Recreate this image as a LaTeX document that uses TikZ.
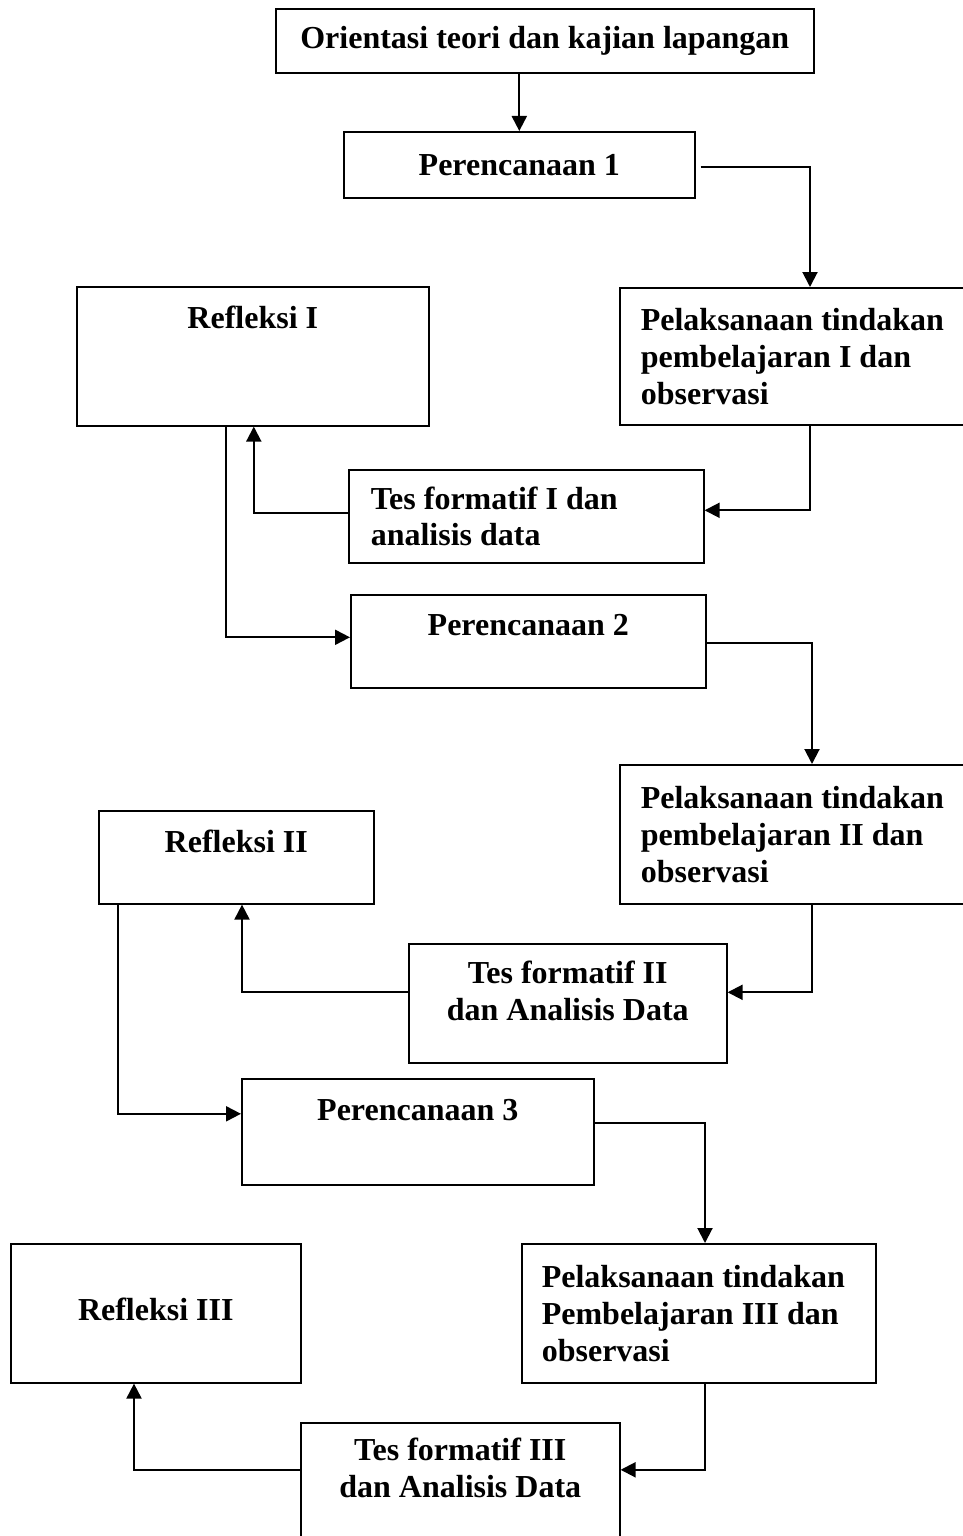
\documentclass[tikz,border=0pt]{standalone}
\usepackage{fontspec}
\setmainfont{Liberation Serif}
\usepackage{xcolor}
\usetikzlibrary{positioning,arrows.meta}
\definecolor{ink}{HTML}{000000}

\begin{document}
\begin{tikzpicture}[x=1pt,y=-1pt,font=\fontsize{32}{36.8}\selectfont\bfseries,
   box/.style={draw=ink,line width=1.6pt,inner sep=0pt,anchor=north west,
     execute at begin node={\spaceskip=.25em\relax}},
   lbox/.style={box,align=left,inner xsep=21pt,text width=318pt},
   cbox/.style={box,align=center},
   flow/.style={-{Triangle[length=15pt,width=15pt]},draw=ink,line width=2pt}]
 \useasboundingbox (0,0) rectangle (963,1536);
 % cycle 1
 \node[box,minimum width=538pt,minimum height=64pt] (o) at (275,8) {Orientasi teori dan kajian lapangan};
 \node[box,minimum width=351pt,minimum height=66pt] (p1) at (343,131) {Perencanaan 1};
 \node[box,minimum width=352pt,text height=42pt,text depth=97pt] (r1) at (76,286) {Refleksi I};
 \node[lbox,minimum height=137pt] (l1) at (619,287) {Pelaksanaan tindakan\\pembelajaran I dan\\observasi};
 \node[box,align=left,inner xsep=22pt,text width=311pt,minimum height=93pt] (t1) at (348,469) {Tes formatif I dan\\analisis data};
 % cycle 2
 \node[box,minimum width=355pt,text height=41pt,text depth=52pt] (p2) at (350,594) {Perencanaan 2};
 \node[lbox,minimum height=139pt] (l2) at (619,764) {Pelaksanaan tindakan\\pembelajaran II dan\\observasi};
 \node[box,minimum width=275pt,text height=42pt,text depth=51pt] (r2) at (98,810) {Refleksi II};
 \node[cbox,text width=318pt,text height=40pt,text depth=79pt] (t2) at (408,943) {Tes formatif II\\dan Analisis Data};
 % cycle 3
 \node[box,minimum width=352pt,text height=42pt,text depth=64pt] (p3) at (241,1078) {Perencanaan 3};
 \node[lbox,inner xsep=20pt,text width=314pt,minimum height=139pt] (l3) at (521,1243) {Pelaksanaan tindakan\\Pembelajaran III dan\\observasi};
 \node[box,minimum width=290pt,text height=77pt,text depth=62pt] (r3) at (10,1243) {Refleksi III};
 \node[cbox,text width=319pt,text height=38pt,text depth=88pt] (t3) at (300,1422) {Tes formatif III\\dan Analisis Data};
 \draw[flow] (o.south -| p1.north) -- (p1.north);
 \draw[flow] ([xshift=5pt,yshift=-2pt]p1.east) -| ([xshift=191pt]l1.north west);
 \draw[flow] ([xshift=191pt]l1.south west) |- ([yshift=6pt]t1.east);
 \draw[flow] ([yshift=3pt]t1.west) -| ([xshift=1pt]r1.south);
 \draw[flow] ([xshift=150pt]r1.south west) |- ([yshift=4pt]p2.west);
 \draw[flow] ([yshift=-2pt]p2.east) -| ([xshift=193pt]l2.north west);
 \draw[flow] ([xshift=193pt]l2.south west) |- ([yshift=11pt]t2.east);
 \draw[flow] ([yshift=11pt]t2.west) -| ([xshift=144pt]r2.south west);
 \draw[flow] ([xshift=20pt]r2.south west) |- ([yshift=18pt]p3.west);
 \draw[flow] ([yshift=9pt]p3.east) -| ([xshift=184pt]l3.north west);
 \draw[flow] ([xshift=184pt]l3.south west) |- ([yshift=16pt]t3.east);
 \draw[flow] ([yshift=16pt]t3.west) -| ([xshift=124pt]r3.south west);
\end{tikzpicture}
\end{document}
